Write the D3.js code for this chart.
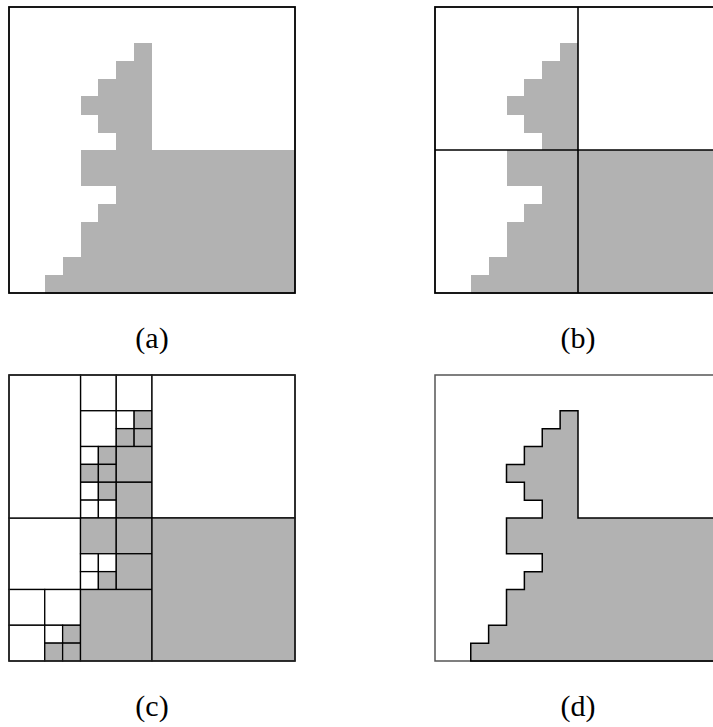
<!DOCTYPE html>
<html>
<head>
<meta charset="utf-8">
<script src="https://cdn.jsdelivr.net/npm/d3@7"></script>
<style>
  html, body { margin: 0; padding: 0; background: #fff; overflow: hidden; }
  svg { display: block; }
</style>
</head>
<body>
<svg id="chart" width="713" height="727"></svg>
<script>
// 16 x 16 binary image: for each row, the gray run spans columns [start, end)
const gridSize = 16;
const rowStart = [null, null, 7, 6, 5, 4, 5, 6, 4, 4, 6, 5, 4, 4, 3, 2];
const rowEnd   = [null, null, 8, 8, 8, 8, 8, 8, 16, 16, 16, 16, 16, 16, 16, 16];
const panelLabels = ["(a)", "(b)", "(c)", "(d)"];
// sibling white leaves drawn as one block in the decomposition (column, row, width, height in cells)
const mergedBlocks = [{ c: 0, r: 0, w: 4, h: 8 }];

const FILL = "#b2b2b2";
const side = 286;
const origins = [[9, 7], [435, 7], [9, 375], [435, 375]];

const svg = d3.select("#chart");
const s = d3.scaleLinear().domain([0, gridSize]).range([0, side]);

// occupancy matrix built from the row runs
const grid = d3.range(gridSize).map(r =>
  d3.range(gridSize).map(c => rowStart[r] !== null && c >= rowStart[r] && c < rowEnd[r] ? 1 : 0));

const runs = d3.range(gridSize).filter(r => rowStart[r] !== null)
  .map(r => ({ row: r, start: rowStart[r], end: rowEnd[r] }));

function drawRuns(g) {
  g.selectAll("rect.run").data(runs).join("rect")
    .attr("class", "run")
    .attr("x", d => s(d.start))
    .attr("y", d => s(d.row))
    .attr("width", d => s(d.end) - s(d.start))
    .attr("height", d => s(d.row + 1) - s(d.row) + 0.5)
    .attr("fill", FILL)
    .attr("shape-rendering", "crispEdges");
}

function frame(g, color, width) {
  g.append("rect")
    .attr("x", s(0)).attr("y", s(0))
    .attr("width", s(gridSize) - s(0)).attr("height", s(gridSize) - s(0))
    .attr("fill", "none").attr("stroke", color).attr("stroke-width", width);
}

const panels = origins.map(([x, y]) => svg.append("g").attr("transform", `translate(${x},${y})`));

// (a) plain image
drawRuns(panels[0]);
frame(panels[0], "#000", 1.8);

// (b) image with the first quadrant split
drawRuns(panels[1]);
const half = gridSize / 2;
panels[1].append("line").attr("x1", s(half)).attr("x2", s(half)).attr("y1", s(0)).attr("y2", s(gridSize))
  .attr("stroke", "#000").attr("stroke-width", 1.6);
panels[1].append("line").attr("y1", s(half)).attr("y2", s(half)).attr("x1", s(0)).attr("x2", s(gridSize))
  .attr("stroke", "#000").attr("stroke-width", 1.6);
frame(panels[1], "#000", 1.8);

// (c) full region quadtree
let leaves = [];
(function split(c, r, n) {
  let sum = 0;
  for (let i = r; i < r + n; i++) for (let j = c; j < c + n; j++) sum += grid[i][j];
  if (sum === 0 || sum === n * n) { leaves.push({ c, r, w: n, h: n, v: sum ? 1 : 0 }); return; }
  const h = n / 2;
  split(c, r, h); split(c + h, r, h); split(c, r + h, h); split(c + h, r + h, h);
})(0, 0, gridSize);
mergedBlocks.forEach(m => {
  leaves = leaves.filter(l => !(l.c >= m.c && l.r >= m.r && l.c + l.w <= m.c + m.w && l.r + l.h <= m.r + m.h));
  leaves.push({ c: m.c, r: m.r, w: m.w, h: m.h, v: 0 });
});

panels[2].selectAll("rect.leaf").data(leaves).join("rect")
  .attr("class", "leaf")
  .attr("x", d => s(d.c)).attr("y", d => s(d.r))
  .attr("width", d => s(d.w) - s(0)).attr("height", d => s(d.h) - s(0))
  .attr("fill", d => d.v ? FILL : "#fff")
  .attr("stroke", "#000").attr("stroke-width", 1.3);
frame(panels[2], "#222", 1.5);

// (d) boundary of the gray region
drawRuns(panels[3]);
frame(panels[3], "#555", 1.5);
const edges = [];
const on = (r, c) => r >= 0 && r < gridSize && c >= 0 && c < gridSize && grid[r][c] === 1;
for (let r = 0; r < gridSize; r++) for (let c = 0; c < gridSize; c++) {
  if (!grid[r][c]) continue;
  if (!on(r - 1, c)) edges.push([c, r, c + 1, r]);
  if (!on(r + 1, c)) edges.push([c, r + 1, c + 1, r + 1]);
  if (!on(r, c - 1)) edges.push([c, r, c, r + 1]);
  if (!on(r, c + 1)) edges.push([c + 1, r, c + 1, r + 1]);
}
panels[3].append("path")
  .attr("d", edges.map(e => `M${s(e[0])},${s(e[1])}L${s(e[2])},${s(e[3])}`).join(""))
  .attr("fill", "none").attr("stroke", "#000").attr("stroke-width", 1.5)
  .attr("stroke-linecap", "square");

// captions
panels.forEach((g, i) => {
  g.append("text")
    .attr("x", s(gridSize / 2))
    .attr("y", side + 55)
    .attr("text-anchor", "middle")
    .attr("font-family", "'Liberation Serif', 'DejaVu Serif', serif")
    .attr("font-size", 30)
    .attr("fill", "#000")
    .text(panelLabels[i]);
});
</script>
</body>
</html>
